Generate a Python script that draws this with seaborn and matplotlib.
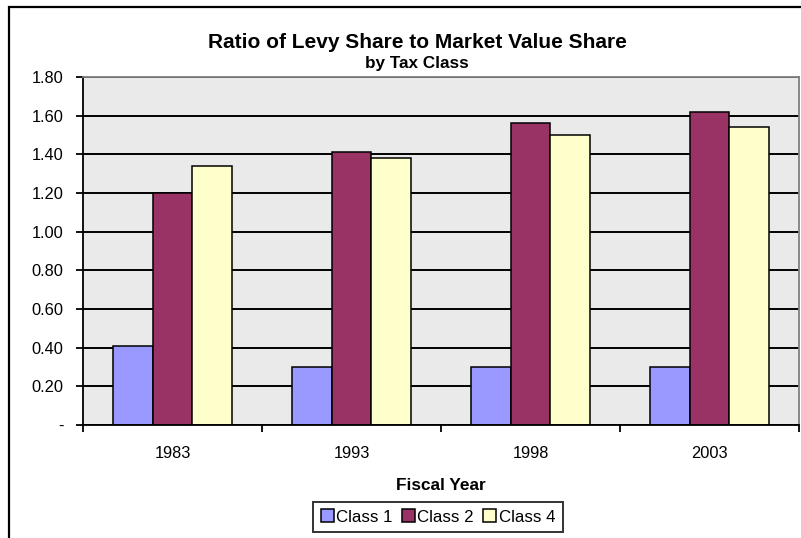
import pandas as pd
import numpy as np
import matplotlib.pyplot as plt
import seaborn as sns
from matplotlib.patches import Rectangle

years = ['1983', '1993', '1998', '2003']
class_1 = [0.41, 0.30, 0.30, 0.30]
class_2 = [1.20, 1.41, 1.56, 1.62]
class_4 = [1.34, 1.38, 1.50, 1.54]
classes = ['Class 1', 'Class 2', 'Class 4']
colors = ['#9999FF', '#993366', '#FFFFCC']

df = pd.DataFrame({
    'year': years * 3,
    'ratio': class_1 + class_2 + class_4,
    'cls': ['Class 1'] * 4 + ['Class 2'] * 4 + ['Class 4'] * 4,
})

sns.set_style('white')
plt.rcParams['font.family'] = ['Liberation Sans', 'DejaVu Sans']
plt.rcParams['text.color'] = 'black'
plt.rcParams['xtick.color'] = 'black'
plt.rcParams['ytick.color'] = 'black'
plt.rcParams['axes.labelcolor'] = 'black'

fig = plt.figure(figsize=(8.01, 5.38), dpi=100)
W, H = 801, 538
ax = fig.add_axes([83 / W, (H - 425) / H, (799 - 83) / W, (425 - 77) / H])
ax.set_facecolor('#EAEAEA')

sns.barplot(data=df, x='year', y='ratio', hue='cls', hue_order=classes,
            palette=colors, width=0.66, edgecolor='black', linewidth=1.1,
            saturation=1, ax=ax, legend=True)

ax.set_xlim(-0.5, 3.5)
ax.set_ylim(0, 1.8)
yt = np.arange(0, 1.81, 0.2)
ax.set_yticks(yt)
ax.set_yticklabels(['-'] + ['%.2f' % v for v in yt[1:]], fontsize=11.8)
ax.set_axisbelow(True)
ax.yaxis.grid(True, color='black', linewidth=1.4)
ax.xaxis.grid(False)

ax.set_xticks([0, 1, 2, 3])
ax.set_xticklabels(years, fontsize=11.8)
ax.set_xticks([-0.5, 0.5, 1.5, 2.5, 3.5], minor=True)
ax.tick_params(axis='x', which='major', length=0, pad=15)
ax.tick_params(axis='x', which='minor', length=5, width=1.3, color='black', direction='out', bottom=True)
ax.tick_params(axis='y', length=5, width=1.3, color='black', direction='out', left=True, pad=9)

for s in ['left', 'bottom']:
    ax.spines[s].set_color('black')
    ax.spines[s].set_linewidth(1.3)
for s in ['top', 'right']:
    ax.spines[s].set_color('#808080')
    ax.spines[s].set_linewidth(1.3)

ax.set_ylabel('')
ax.set_xlabel('Fiscal Year', fontsize=12.4, fontweight='bold', labelpad=12)

fig.text(417 / W, 1 - 42 / H, 'Ratio of Levy Share to Market Value Share',
         ha='center', va='center', fontsize=15, fontweight='bold')
fig.text(417 / W, 1 - 64 / H, 'by Tax Class',
         ha='center', va='center', fontsize=12.3, fontweight='bold')

handles, labels = ax.get_legend_handles_labels()
ax.get_legend().remove()
leg = fig.legend(handles, labels, loc='center', bbox_to_anchor=(438 / W, 1 - 517 / H),
                 ncol=3, fontsize=12.2, frameon=True, fancybox=False,
                 handlelength=0.75, handleheight=0.75, handletextpad=0.15,
                 columnspacing=0.55, borderpad=0.45, borderaxespad=0)
leg.get_frame().set_edgecolor('black')
leg.get_frame().set_linewidth(1.4)

# outer chart border (cropped on right/bottom)
fig.patches.append(Rectangle((9 / W, -0.1), 1.2, 1 - 7 / H + 0.1, transform=fig.transFigure,
                             fill=False, edgecolor='black', linewidth=1.6, zorder=0))

fig.savefig('out.png', dpi=100)
